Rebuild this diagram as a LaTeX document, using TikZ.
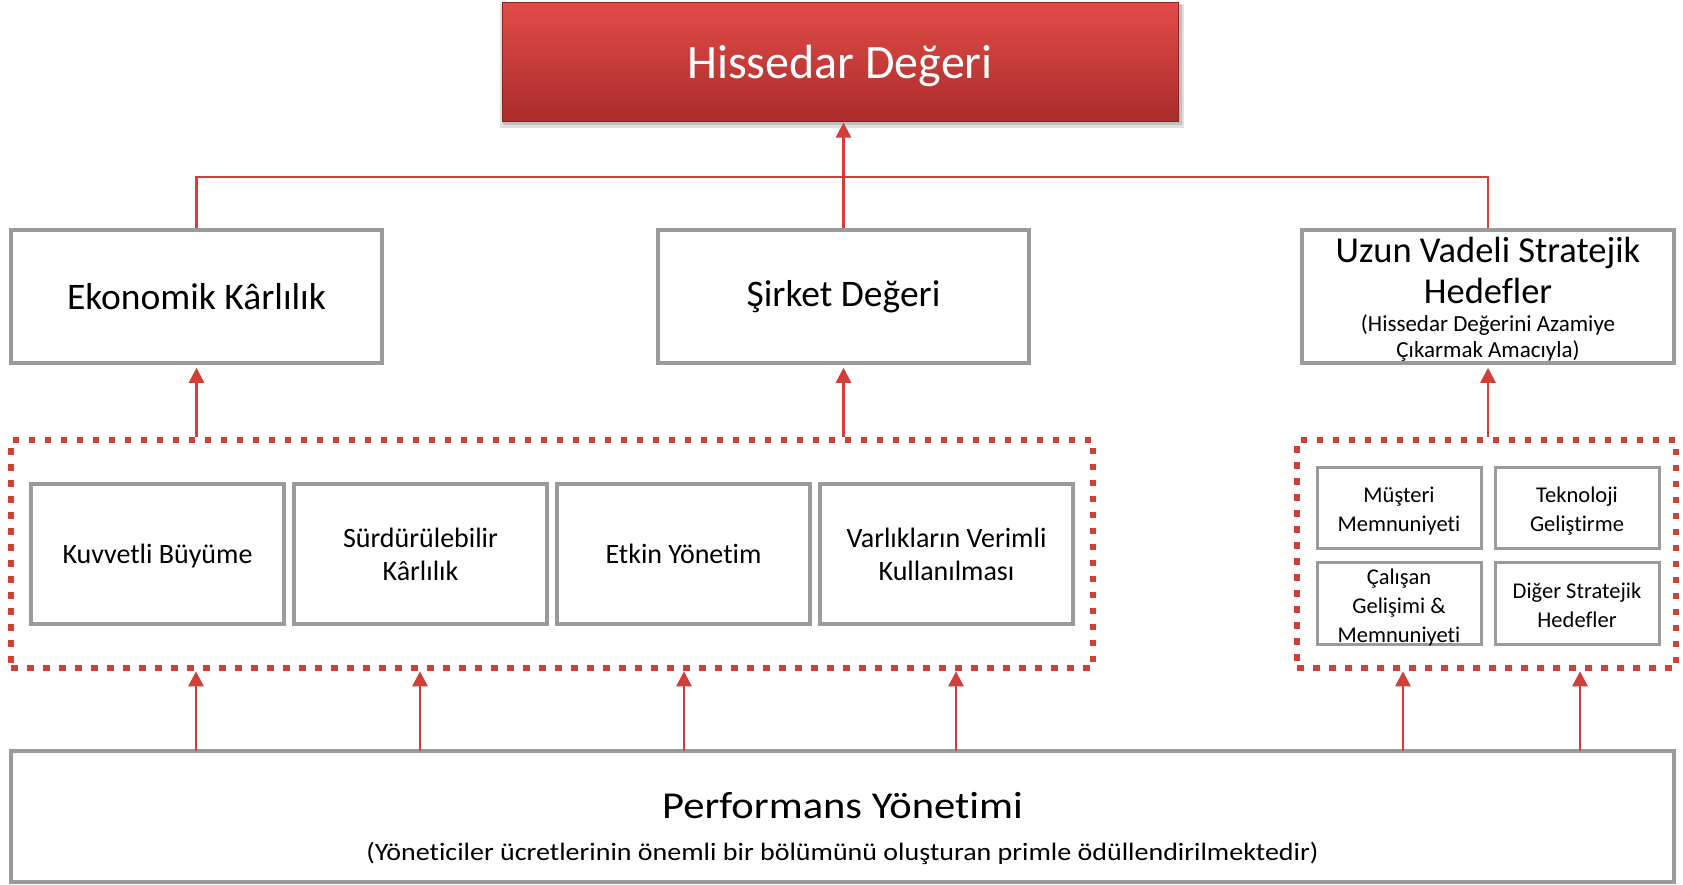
\documentclass[tikz,border=0pt]{standalone}
\usepackage{fontspec}
\setmainfont{Carlito}[Ligatures=NoCommon]
\usetikzlibrary{arrows.meta}
\definecolor{redline}{RGB}{210,62,56}
\definecolor{boxgray}{RGB}{155,155,155}
\definecolor{topred}{RGB}{226,76,70}
\definecolor{botred}{RGB}{170,44,44}
\definecolor{edgered}{RGB}{140,35,35}
\begin{document}
\begin{tikzpicture}[x=1pt,y=-1pt,
  graybox/.style={draw=boxgray,line width=3.5pt,fill=white,inner sep=0pt,align=center},
  smallbox/.style={graybox,line width=3pt,minimum width=164pt},
  midbox/.style={graybox,minimum width=253pt,minimum height=140pt,font=\fontsize{28}{33}\selectfont},
  dotbox/.style={draw=redline,line width=6.5pt,dash pattern=on 6.5pt off 9.5pt,inner sep=0pt},
  conn/.style={draw=redline,line width=2.6pt},
  arr/.style={conn,-{Triangle[width=15pt,length=15pt]}},
  lbl/.style={inner sep=0pt,align=center,text=black},
  smalltxt/.style={lbl,font=\fontsize{22.5}{29}\selectfont}
]
\useasboundingbox (0,0) rectangle (1683,884);

% top box with shadow
\fill[black,opacity=0.12] (500,4) rectangle (1184,128);
\fill[black,opacity=0.15] (503,5) rectangle (1182,125);
\node[minimum width=676pt,minimum height=119pt,top color=topred,bottom color=botred,
      draw=edgered,line width=1pt,inner sep=0pt,text=white,text depth=0pt,
      font=\fontsize{48}{56}\selectfont] (top) at (840,61.5) {Hissedar Değeri};

% level 2
\node[graybox,minimum width=371pt,minimum height=133pt,font=\fontsize{37.5}{44}\selectfont] (eko) at (196.5,296.5) {Ekonomik Kârlılık};
\node[graybox,minimum width=371pt,minimum height=133pt,font=\fontsize{37.5}{44}\selectfont] (sirket) at (843.5,296.5) {Şirket Değeri};
\node[graybox,minimum width=372pt,minimum height=133pt] (uzun) at (1488,296.5) {};
\node[lbl,font=\fontsize{36.5}{41}\selectfont] (uzunt) at (1488,270) {Uzun Vadeli Stratejik\\Hedefler};
\node[lbl,font=\fontsize{23}{26}\selectfont] (uzuns) at (1488,338.5) {(Hissedar Değerini Azamiye\\Çıkarmak Amacıyla)};

% dotted groups
\node[dotbox,minimum width=1082pt,minimum height=228pt] (dotL) at (552,554) {};
\node[dotbox,minimum width=379pt,minimum height=228pt] (dotR) at (1486.5,554) {};

\node[midbox,text depth=0pt] (kuv) at (157.5,554) {Kuvvetli Büyüme};
\node[midbox] (surd) at (420.5,554) {Sürdürülebilir\\Kârlılık};
\node[midbox] (etkin) at (683.5,554) {Etkin Yönetim};
\node[midbox] (varlik) at (946.5,554) {Varlıkların Verimli\\Kullanılması};

\node[smallbox,minimum height=81pt] (muster) at (1399,507.5) {};
\node[smallbox,minimum height=81pt] (tekno) at (1577,507.5) {};
\node[smallbox,minimum height=82pt] (calisan) at (1399,603) {};
\node[smallbox,minimum height=82pt] (diger) at (1577,603) {};
\node[smalltxt] (mustert) at ([yshift=-4pt]muster.center) {Müşteri\\Memnuniyeti};
\node[smalltxt] (teknot) at ([yshift=-4pt]tekno.center) {Teknoloji\\Geliştirme};
\node[smalltxt] (calisant) at ([yshift=-4pt]calisan.center) {Çalışan\\Gelişimi \&\\Memnuniyeti};
\node[smalltxt] (digert) at ([yshift=-2pt]diger.center) {Diğer Stratejik\\Hedefler};

% bottom
\node[graybox,minimum width=1663pt,minimum height=131pt] (perf) at (842.5,816.5) {};
\node[lbl,font=\fontsize{38}{44}\selectfont] (perft) at (842.5,806) {\scalebox{1.12}[1]{Performans Yönetimi}};
\node[lbl,font=\fontsize{25}{30}\selectfont] (perfs) at (842.5,853) {\scalebox{1.12}[1]{(Yöneticiler ücretlerinin önemli bir bölümünü oluşturan primle ödüllendirilmektedir)}};

% connectors
\coordinate (hub) at (843.5,177);
\draw[conn] (eko.north) |- (hub) -| (uzun.north);
\draw[arr,shorten >=1pt] (sirket.north) -- (sirket.north |- top.south);

\draw[arr,shorten >=3pt] (eko.south |- dotL.north) -- (eko.south);
\draw[arr,shorten >=3pt] (sirket.south |- dotL.north) -- (sirket.south);
\draw[arr,shorten >=3pt] (uzun.south |- dotR.north) -- (uzun.south);

\coordinate (a1) at (196,751);
\coordinate (a2) at (420,751);
\coordinate (a3) at (684,751);
\coordinate (a4) at (956,751);
\coordinate (a5) at (1403,751);
\coordinate (a6) at (1580,751);
\draw[arr] (a1) -- (a1 |- dotL.south);
\draw[arr] (a2) -- (a2 |- dotL.south);
\draw[arr] (a3) -- (a3 |- dotL.south);
\draw[arr] (a4) -- (a4 |- dotL.south);
\draw[arr] (a5) -- (a5 |- dotR.south);
\draw[arr] (a6) -- (a6 |- dotR.south);
\end{tikzpicture}
\end{document}
